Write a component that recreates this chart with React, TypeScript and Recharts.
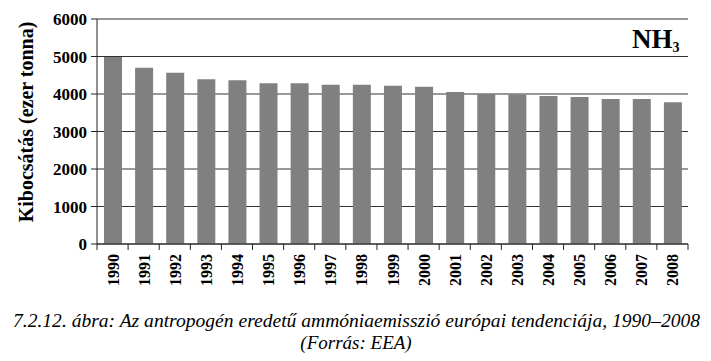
import React from 'react';
import { BarChart, Bar, XAxis, YAxis, CartesianGrid } from 'recharts';

const years = ['1990', '1991', '1992', '1993', '1994', '1995', '1996', '1997', '1998', '1999', '2000', '2001', '2002', '2003', '2004', '2005', '2006', '2007', '2008'];
const emissions = [4990, 4700, 4570, 4395, 4365, 4290, 4285, 4250, 4248, 4222, 4195, 4055, 4000, 3985, 3950, 3920, 3870, 3868, 3780];
const yTicks = [0, 1000, 2000, 3000, 4000, 5000, 6000];

const data = years.map((year, i) => ({ year, value: emissions[i] }));

const W = 711;
const H = 361;
const PLOT_LEFT = 97;
const PLOT_RIGHT = 688;
const BAND = (PLOT_RIGHT - PLOT_LEFT) / years.length;
const FONT = "'Liberation Serif', 'Times New Roman', Tinos, 'DejaVu Serif', serif";

const XTick = (props: any) => {
  const { x, y, payload, index } = props;
  const left = x - BAND / 2;
  const right = x + BAND / 2;
  return (
    <g>
      <line x1={left} y1={y} x2={left} y2={y + 6} stroke="#222" strokeWidth={1} />
      {index === years.length - 1 && (
        <line x1={right} y1={y} x2={right} y2={y + 6} stroke="#222" strokeWidth={1} />
      )}
      <text
        transform={`translate(${x + 6},${y + 10}) rotate(-90)`}
        textAnchor="end"
        style={{ fontFamily: FONT, fontWeight: 'bold', fontSize: 16 }}
        fill="#000"
      >
        {payload.value}
      </text>
    </g>
  );
};

export default function App() {
  return (
    <div style={{ position: 'absolute', left: 0, top: 0, width: W, height: H, background: '#fff' }}>
      <BarChart
        width={W}
        height={H}
        data={data}
        margin={{ top: 19, right: 23, left: 0, bottom: 72 }}
        barSize={18}
      >
        <CartesianGrid vertical={false} stroke="#333" strokeWidth={1} />
        <XAxis
          dataKey="year"
          height={45}
          tick={<XTick />}
          tickLine={false}
          tickSize={0}
          tickMargin={0}
          axisLine={{ stroke: '#222', strokeWidth: 1 }}
          interval={0}
        />
        <YAxis
          width={97}
          domain={[0, 6000]}
          ticks={yTicks}
          interval={0}
          tickSize={6}
          tickMargin={4}
          tickLine={{ stroke: '#222' }}
          axisLine={{ stroke: '#222', strokeWidth: 1 }}
          tick={{ style: { fontFamily: FONT, fontWeight: 'bold', fontSize: 17 }, fill: '#000' }}
        />
        <YAxis
          yAxisId="r"
          orientation="right"
          width={0}
          domain={[0, 6000]}
          tick={false}
          tickLine={false}
          axisLine={{ stroke: '#222', strokeWidth: 1 }}
        />
        <Bar dataKey="value" fill="#808080" isAnimationActive={false} />
      </BarChart>
      <svg
        width={W}
        height={H}
        style={{ position: 'absolute', left: 0, top: 0, pointerEvents: 'none' }}
      >
        <text
          transform="translate(33,122) rotate(-90)"
          textAnchor="middle"
          style={{ fontFamily: FONT, fontWeight: 'bold', fontSize: 20 }}
          fill="#000"
        >
          Kibocsátás (ezer tonna)
        </text>
        <text x={632} y={48} style={{ fontFamily: FONT, fontWeight: 'bold', fontSize: 27 }} fill="#000">
          NH
          <tspan style={{ fontSize: 14 }} dy={4}>3</tspan>
        </text>
        <text
          x={13}
          y={327}
          style={{ fontFamily: FONT, fontStyle: 'italic', fontSize: 19 }}
          fill="#000"
          textLength={687}
          lengthAdjust="spacingAndGlyphs"
        >
          7.2.12. ábra: Az antropogén eredetű ammóniaemisszió európai tendenciája, 1990–2008
        </text>
        <text
          x={356}
          y={349}
          textAnchor="middle"
          style={{ fontFamily: FONT, fontStyle: 'italic', fontSize: 19 }}
          fill="#000"
        >
          (Forrás: EEA)
        </text>
      </svg>
    </div>
  );
}
